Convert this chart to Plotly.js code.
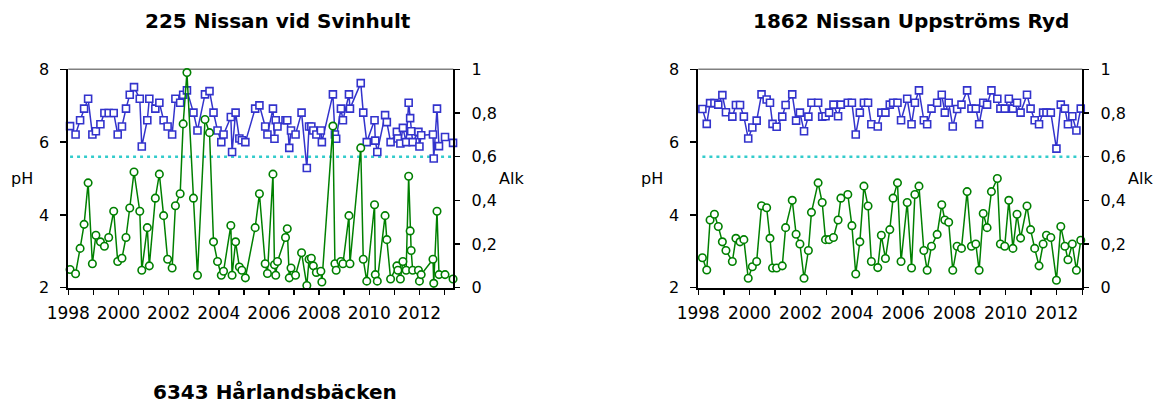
<!DOCTYPE html>
<html><head><meta charset="utf-8">
<script src="https://cdn.plot.ly/plotly-3.0.1.min.js"></script>
<style>html,body{margin:0;padding:0;background:#fff}#chart{width:1157px;height:408px}</style>
</head><body><div id="chart"></div><script>
const chartTitles = ['225 Nissan vid Svinhult', '1862 Nissan Uppströms Ryd', '6343 Hårlandsbäcken'];
const phTitle = 'pH';
const alkTitle = 'Alk';

// Station 225 Nissan vid Svinhult (decimal year)
const dates1 = [1998.07,1998.29,1998.47,1998.63,1998.79,1998.96,1999.10,1999.28,1999.44,1999.61,1999.81,1999.97,2000.14,2000.30,2000.45,2000.62,2000.85,2000.93,2001.15,2001.23,2001.47,2001.63,2001.80,2001.96,2002.14,2002.27,2002.46,2002.58,2002.73,2002.99,2003.15,2003.45,2003.63,2003.79,2003.95,2004.10,2004.19,2004.48,2004.53,2004.67,2004.82,2004.92,2005.06,2005.45,2005.62,2005.85,2005.94,2006.16,2006.22,2006.27,2006.34,2006.66,2006.73,2006.81,2006.88,2007.06,2007.30,2007.51,2007.60,2007.69,2007.77,2007.89,2008.07,2008.11,2008.55,2008.63,2008.68,2008.87,2008.95,2009.19,2009.23,2009.66,2009.76,2009.90,2010.21,2010.24,2010.32,2010.63,2010.70,2010.85,2011.10,2011.14,2011.24,2011.34,2011.47,2011.57,2011.63,2011.67,2011.73,2011.96,2012.00,2012.07,2012.54,2012.57,2012.70,2012.78,2013.02,2013.34];
const ph1 = [6.44,6.21,6.60,6.92,7.19,6.21,6.30,6.49,6.80,6.80,6.80,6.21,6.43,6.92,7.30,7.51,7.19,5.88,6.60,7.19,6.92,7.08,6.60,6.43,6.21,7.19,7.08,7.30,7.42,6.81,6.32,7.31,7.40,6.81,6.32,6.00,6.21,6.69,5.73,6.81,6.10,6.05,6.00,6.92,7.01,6.43,6.21,6.92,6.09,6.60,6.43,6.60,6.60,5.84,6.32,6.21,6.81,5.29,6.43,6.43,6.32,6.21,6.32,6.00,7.31,6.21,6.09,6.92,6.60,7.31,6.92,7.62,6.81,6.00,6.60,6.04,5.73,6.74,6.55,6.00,6.28,6.10,5.96,6.39,6.00,7.08,6.66,6.30,6.00,6.28,5.88,6.19,6.21,5.55,6.92,5.89,6.14,5.98];
const alk1 = [0.083,0.064,0.18,0.29,0.48,0.11,0.24,0.21,0.19,0.23,0.35,0.12,0.135,0.23,0.365,0.53,0.35,0.08,0.275,0.10,0.41,0.52,0.33,0.13,0.09,0.375,0.43,0.75,0.985,0.41,0.057,0.77,0.71,0.21,0.12,0.057,0.075,0.285,0.057,0.21,0.095,0.08,0.045,0.275,0.43,0.11,0.065,0.52,0.105,0.057,0.12,0.23,0.27,0.045,0.09,0.057,0.16,0.01,0.13,0.135,0.10,0.07,0.075,0.026,0.74,0.11,0.08,0.12,0.11,0.33,0.11,0.64,0.13,0.03,0.38,0.06,0.03,0.33,0.22,0.04,0.10,0.08,0.04,0.12,0.08,0.51,0.26,0.17,0.08,0.08,0.03,0.06,0.13,0.02,0.35,0.06,0.06,0.04];

// Station 1862 Nissan Uppströms Ryd (decimal year)
const dates2 = [1998.16,1998.33,1998.46,1998.63,1998.78,1998.94,1999.08,1999.33,1999.47,1999.63,1999.78,1999.95,2000.11,2000.28,2000.47,2000.67,2000.80,2000.90,2001.06,2001.28,2001.41,2001.67,2001.82,2001.97,2002.13,2002.30,2002.42,2002.68,2002.84,2002.97,2003.11,2003.28,2003.46,2003.57,2003.84,2004.00,2004.15,2004.31,2004.47,2004.63,2004.76,2005.01,2005.15,2005.31,2005.48,2005.61,2005.78,2005.92,2006.16,2006.33,2006.46,2006.62,2006.81,2006.94,2007.11,2007.33,2007.51,2007.63,2007.78,2007.94,2008.11,2008.28,2008.50,2008.67,2008.84,2008.97,2009.13,2009.28,2009.45,2009.68,2009.80,2009.97,2010.13,2010.29,2010.45,2010.59,2010.84,2010.98,2011.14,2011.31,2011.47,2011.60,2011.77,2011.99,2012.16,2012.32,2012.44,2012.61,2012.77,2012.94];
const ph2 = [6.91,6.50,7.07,7.07,7.03,7.29,6.82,6.70,7.02,7.02,6.70,6.10,6.40,6.59,7.31,7.17,7.08,6.50,6.42,6.70,7.02,7.31,6.59,6.81,6.30,6.70,7.08,7.08,6.70,6.71,6.81,7.03,6.71,7.03,7.08,7.08,6.21,6.81,7.08,7.08,6.49,6.43,6.81,6.81,7.03,7.08,7.08,6.60,7.19,6.49,7.08,7.42,6.60,6.49,6.92,7.08,7.30,6.81,7.08,6.43,6.91,7.03,7.42,6.92,6.92,6.49,7.08,7.03,7.42,7.19,6.92,6.92,7.19,6.92,7.08,6.81,7.30,6.92,6.60,6.49,6.81,6.81,6.81,5.82,7.03,6.92,6.49,6.71,6.32,6.92];
const alk2 = [0.137,0.081,0.31,0.336,0.28,0.21,0.17,0.12,0.226,0.21,0.22,0.043,0.096,0.12,0.375,0.366,0.226,0.09,0.09,0.10,0.275,0.40,0.245,0.20,0.043,0.17,0.345,0.48,0.39,0.22,0.22,0.23,0.31,0.41,0.427,0.284,0.063,0.21,0.465,0.374,0.12,0.092,0.24,0.134,0.266,0.41,0.48,0.12,0.39,0.09,0.427,0.465,0.17,0.08,0.19,0.244,0.38,0.31,0.30,0.08,0.19,0.18,0.44,0.19,0.20,0.08,0.34,0.275,0.44,0.50,0.20,0.19,0.40,0.18,0.336,0.227,0.374,0.266,0.18,0.10,0.20,0.24,0.23,0.034,0.28,0.19,0.128,0.20,0.08,0.217];

const limitPH = 5.6;
const xRange1 = [1998, 2013.35];
const xRange2 = [1998, 2013];
const yearTicks = [1998,1999,2000,2001,2002,2003,2004,2005,2006,2007,2008,2009,2010,2011,2012,2013];
const yearLabels = ['1998','','2000','','2002','','2004','','2006','','2008','','2010','','2012',''];
const phTicks = [2,4,6,8];
const phLabels = ['2','4','6','8'];
const alkTicks = [0,0.2,0.4,0.6,0.8,1];
const alkLabels = ['0','0,2','0,4','0,6','0,8','1'];

const FONT = 'DejaVu Sans, Arial, sans-serif';
const blue = '#3333CC', green = '#008000', cyan = '#33CCCC';

function limitTrace(d, xa, ya) {
  return {x: [d[0], d[d.length-1]], y: [limitPH, limitPH], xaxis: xa, yaxis: ya, mode: 'lines',
    line: {color: cyan, width: 2.5, dash: '3px,4px'}, hoverinfo: 'skip', showlegend: false};
}
function phTrace(d, v, xa, ya) {
  return {x: d, y: v, xaxis: xa, yaxis: ya, mode: 'lines+markers', cliponaxis: false, showlegend: false,
    line: {color: blue, width: 1.5},
    marker: {symbol: 'square', size: 7, color: '#ffffff', line: {color: blue, width: 1.6}}};
}
function alkTrace(d, v, xa, ya) {
  return {x: d, y: v, xaxis: xa, yaxis: ya, mode: 'lines+markers', cliponaxis: false, showlegend: false,
    line: {color: green, width: 1.5},
    marker: {symbol: 'circle', size: 7.5, color: '#ffffff', line: {color: green, width: 1.6}}};
}

const data = [
  limitTrace(dates1, 'x', 'y'), phTrace(dates1, ph1, 'x', 'y'), alkTrace(dates1, alk1, 'x', 'y2'),
  limitTrace(dates2, 'x2', 'y3'), phTrace(dates2, ph2, 'x2', 'y3'), alkTrace(dates2, alk2, 'x2', 'y4')
];

const W = 1157, H = 408;
const yDom = [(H-287.7)/H, (H-69.3)/H];
const tickFont = {family: FONT, size: 16, color: '#000'};
const xTickFont = {family: FONT, size: 17, color: '#000'};
function xAxis(dom, range, anchor) {
  return {domain: dom, range: range, anchor: anchor, tickmode: 'array', tickvals: yearTicks, ticktext: yearLabels,
    showline: true, linecolor: '#000', linewidth: 2, ticks: 'outside', ticklen: 5, tickwidth: 1.5, tickcolor: '#000',
    showgrid: false, zeroline: false, tickfont: xTickFont, ticklabelstandoff: 4, fixedrange: true};
}
function phAxis(anchor) {
  return {domain: yDom, range: [2, 8], anchor: anchor, tickmode: 'array', tickvals: phTicks, ticktext: phLabels,
    showline: true, linecolor: '#000', linewidth: 2, ticks: 'outside', ticklen: 6, tickwidth: 1.5, tickcolor: '#000',
    showgrid: false, zeroline: false, tickfont: tickFont, ticklabelstandoff: 8, fixedrange: true};
}
function alkAxis(over, anchor) {
  return {overlaying: over, side: 'right', anchor: anchor, range: [0, 1], tickmode: 'array', tickvals: alkTicks, ticktext: alkLabels,
    showline: true, linecolor: '#000', linewidth: 2, ticks: 'outside', ticklen: 5, tickwidth: 1.5, tickcolor: '#000',
    showgrid: false, zeroline: false, tickfont: tickFont, ticklabelstandoff: 8, fixedrange: true};
}

function ann(text, x, y, opts) {
  return Object.assign({text: text, x: x/W, y: (H-y)/H, xref: 'paper', yref: 'paper', showarrow: false,
    xanchor: 'center', yanchor: 'middle', font: {family: FONT, size: 16, color: '#000'}}, opts || {});
}
const titleFont = {family: FONT, size: 20, color: '#000', weight: 'bold'};

const layout = {
  width: W, height: H, margin: {l: 0, r: 0, t: 0, b: 0}, paper_bgcolor: '#fff', plot_bgcolor: '#fff',
  showlegend: false, hovermode: false,
  xaxis: xAxis([68.3/W, 453.3/W], xRange1, 'y'),
  yaxis: phAxis('x'),
  yaxis2: alkAxis('y', 'x'),
  xaxis2: xAxis([698.3/W, 1082.3/W], xRange2, 'y3'),
  yaxis3: phAxis('x2'),
  yaxis4: alkAxis('y3', 'x2'),
  shapes: [
    {type: 'line', xref: 'x domain', yref: 'y domain', x0: 0, x1: 1, y0: 1, y1: 1, layer: 'below', line: {color: '#808080', width: 1.5}},
    {type: 'line', xref: 'x2 domain', yref: 'y3 domain', x0: 0, x1: 1, y0: 1, y1: 1, layer: 'below', line: {color: '#808080', width: 1.5}}
  ],
  annotations: [
    ann('<b>' + chartTitles[0] + '</b>', 277.5, 21, {font: titleFont}),
    ann('<b>' + chartTitles[1] + '</b>', 911, 21, {font: titleFont}),
    ann('<b>' + chartTitles[2] + '</b>', 275, 392, {font: titleFont}),
    ann(phTitle, 21.7, 178),
    ann(alkTitle, 496.7, 178, {xanchor: 'left'}),
    ann(phTitle, 651.5, 178),
    ann(alkTitle, 1126, 178, {xanchor: 'left'})
  ]
};

Plotly.newPlot('chart', data, layout, {staticPlot: true, displayModeBar: false});
</script></body></html>
